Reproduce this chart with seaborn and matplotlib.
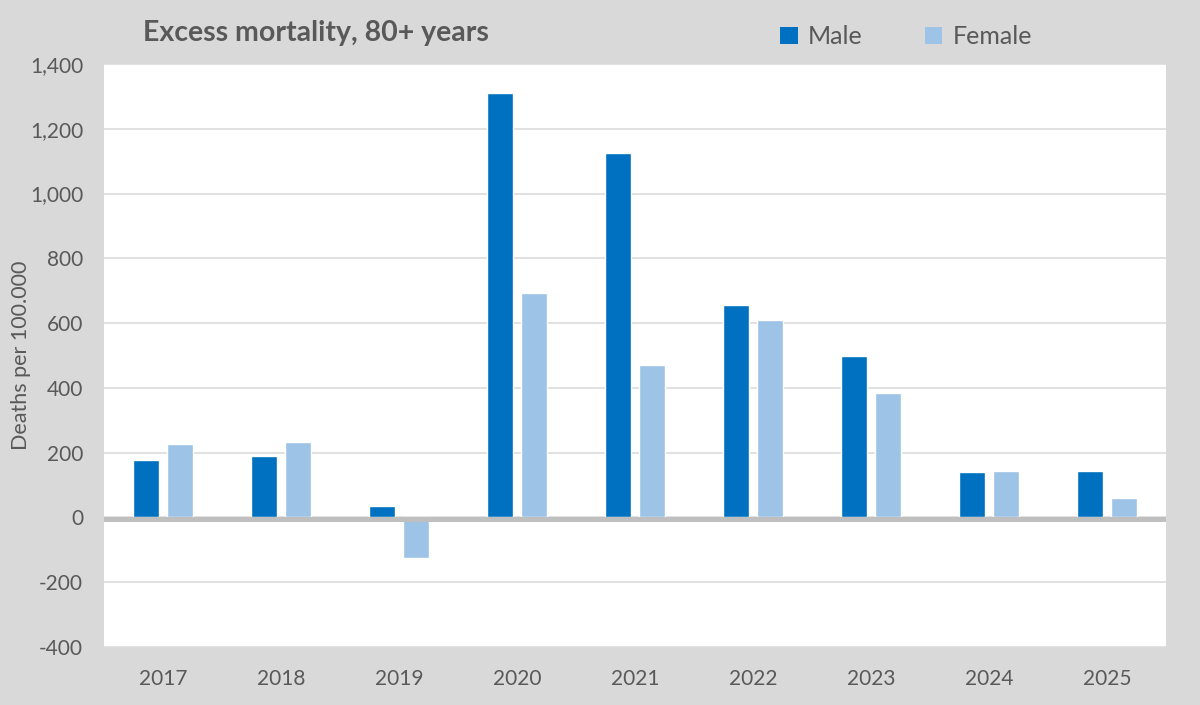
import matplotlib
matplotlib.use("Agg")
import matplotlib.pyplot as plt
import matplotlib.ticker as mticker
from matplotlib.patches import Patch
from matplotlib.transforms import ScaledTranslation
import seaborn as sns
import pandas as pd

years = ["2017", "2018", "2019", "2020", "2021", "2022", "2023", "2024", "2025"]
male = [178, 191, 34, 1312, 1126, 656, 497, 140, 144]
female = [227, 233, -124, 694, 472, 609, 383, 144, 60]
series = ["Male", "Female"]
colors = {"Male": "#0070C0", "Female": "#9DC3E6"}
yticks = [-400, -200, 0, 200, 400, 600, 800, 1000, 1200, 1400]

df = pd.DataFrame({
    "year": years * 2,
    "value": male + female,
    "sex": ["Male"] * len(years) + ["Female"] * len(years),
})

sns.set_theme(style="white")
plt.rcParams["font.family"] = ["Lato", "DejaVu Sans"]
txt = "#595959"
bg = "#D9D9D9"

fig = plt.figure(figsize=(12, 7.05), dpi=100, facecolor=bg)
ax = fig.add_axes([0.0867, 0.0823, 0.885, 0.8269])
ax.set_facecolor("white")

sns.barplot(data=df, x="year", y="value", hue="sex", hue_order=series,
            order=years, palette=colors, width=0.57, gap=0.23,
            saturation=1, ax=ax, legend=False, zorder=2)

ax.set_ylim(-400, 1400)
ax.set_yticks(yticks)
ax.yaxis.set_major_formatter(mticker.FuncFormatter(lambda v, p: f"{int(v):,}"))
ax.set_xlim(-0.5, len(years) - 0.5)
ax.grid(axis="y", color="#D9D9D9", lw=1.1, zorder=0)
ax.set_axisbelow(True)
for s in ax.spines.values():
    s.set_visible(False)
zl = ax.axhline(0, color="#BFBFBF", lw=3.6, zorder=3)
zl.set_transform(zl.get_transform() + ScaledTranslation(0, -2.0 / 100, fig.dpi_scale_trans))

ax.tick_params(axis="both", length=0, labelsize=15, colors=txt)
ax.tick_params(axis="x", pad=16)
ax.tick_params(axis="y", pad=15)
ax.set_xlabel("")
ax.set_ylabel("Deaths per 100.000", fontsize=15.5, color=txt)
ax.yaxis.set_label_coords(-0.069, 0.5)

fig.text(0.263, 0.953, "Excess mortality, 80+ years", fontsize=20.5,
         fontweight="bold", color=txt, ha="center", va="center")

handles = [Patch(facecolor=colors[s], edgecolor="none", label=s) for s in series]
leg = fig.legend(handles=handles, loc="center", bbox_to_anchor=(0.755, 0.948),
                 ncol=2, frameon=False, fontsize=18, handlelength=0.7,
                 handleheight=0.7, handletextpad=0.4, columnspacing=2.5,
                 labelcolor=txt)

fig.savefig("out.png", dpi=100, facecolor=bg)
